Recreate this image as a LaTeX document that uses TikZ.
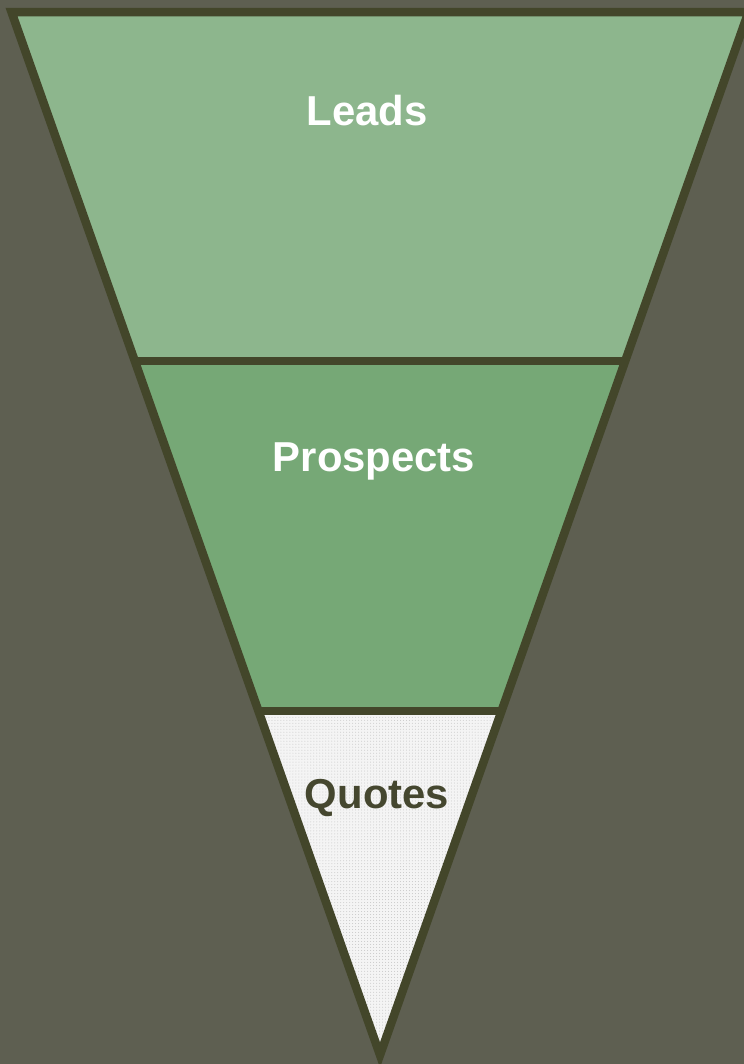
\documentclass[tikz,border=0pt]{standalone}
\usepackage{fontspec}
\setmainfont{Liberation Sans}
\usetikzlibrary{calc,patterns}
\definecolor{bgcol}{RGB}{94,95,81}
\definecolor{edgecol}{RGB}{67,70,42}
\definecolor{leadscol}{RGB}{141,182,141}
\definecolor{prospcol}{RGB}{118,168,118}
\definecolor{quotecol}{RGB}{244,244,244}
\definecolor{quotetext}{RGB}{69,71,47}
\tikzset{
  funnel edge/.style={draw=edgecol, line width=8.5bp, line join=miter},
  stage label/.style={font=\fontsize{42}{50}\selectfont\bfseries, inner sep=0pt},
}
\begin{document}
\begin{tikzpicture}[x=1bp,y=-1bp]
  \clip (0,0) rectangle (744,1064);
  \fill[bgcol] (0,0) rectangle (744,1064);
  % funnel corners and stage boundaries
  \coordinate (TL) at (11.5,12);
  \coordinate (TR) at (748.5,12);
  \coordinate (A) at (380,1055);
  \coordinate (L1) at ($(TL)!0.3346!(A)$);
  \coordinate (R1) at ($(TR)!0.3346!(A)$);
  \coordinate (L2) at ($(TL)!0.6702!(A)$);
  \coordinate (R2) at ($(TR)!0.6702!(A)$);
  % stage fills
  \fill[leadscol] (TL) -- (TR) -- (R1) -- (L1) -- cycle;
  \fill[prospcol] (L1) -- (R1) -- (R2) -- (L2) -- cycle;
  \fill[quotecol] (L2) -- (R2) -- (A) -- cycle;
  \fill[pattern=dots, pattern color=gray!45] (L2) -- (R2) -- (A) -- cycle;
  % outline and dividers
  \draw[funnel edge] (TL) -- (TR) -- (A) -- cycle;
  \draw[funnel edge] (L1) -- (R1);
  \draw[funnel edge] (L2) -- (R2);
  % labels
  \node[stage label, text=white] (leads) at (367,111) {Leads};
  \node[stage label, text=white] (prospects) at (374,461) {Prospects};
  \node[stage label, text=quotetext] (quotes) at (377,798) {Quotes};
\end{tikzpicture}
\end{document}
